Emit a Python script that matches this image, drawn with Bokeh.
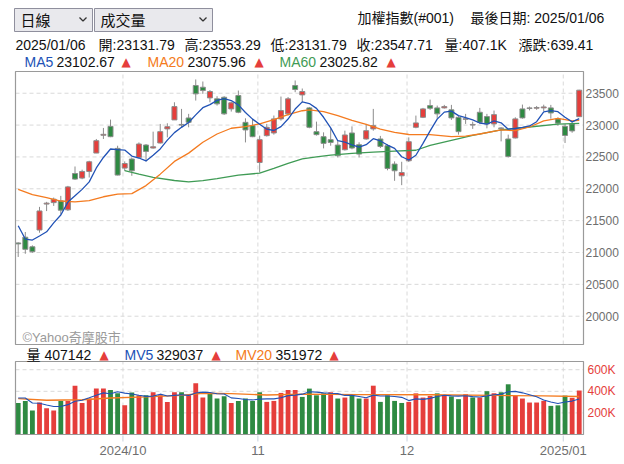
from bokeh.plotting import figure
from bokeh.models import Range1d, ColumnDataSource
from bokeh.core.properties import value
from bokeh.embed import file_html
from bokeh.resources import INLINE

# ---------------- data ----------------
month_start_idx = [15, 34, 55, 77]
month_labels = ["2024/10", "11", "12", "2025/01"]

opens = [21150, 21240, 21090, 21353, 21760, 21783, 21810, 21670, 22240, 22168,
         22272, 22561, 22840, 22980, 22634, 22325, 22467, 22492, 22687, 22640,
         22719, 22940, 23081, 23010, 23112, 23621, 23594, 23427, 23412, 23437,
         23254, 23464, 23043, 22991, 22413, 22834, 22876, 23097, 23176, 23621,
         23474, 23270, 22897, 22818, 22771, 22687, 22613, 22876, 22692, 22782,
         22940, 22782, 22676, 22388, 22204, 22440, 22965, 23122, 23306, 23270,
         23270, 23239, 23122, 23090, 23000, 23201, 23133, 23018, 22955, 22782,
         22798, 23254, 23260, 23265, 23270, 23270, 23097, 22980, 23018, 23131.79]
highs = [21160, 21322, 21112, 21716, 21795, 21862, 21889, 22046, 22350, 22300,
         22440, 22782, 22955, 23086, 22676, 22430, 22492, 22728, 22703, 22897,
         23018, 23028, 23358, 23254, 23176, 23716, 23684, 23550, 23453, 23453,
         23369, 23542, 23106, 23097, 22834, 23018, 23150, 23448, 23440, 23700,
         23574, 23285, 23054, 22886, 22949, 22766, 22912, 22980, 22730, 23018,
         23254, 22830, 22700, 22430, 22424, 22807, 23149, 23270, 23400, 23306,
         23317, 23317, 23140, 23176, 23054, 23270, 23176, 23228, 22965, 22850,
         23122, 23322, 23290, 23300, 23320, 23317, 23120, 23018, 23060, 23553.29]
lows = [20930, 20980, 20996, 21311, 21650, 21731, 21600, 21652, 22140, 22150,
        22177, 22560, 22782, 22810, 22210, 22280, 22204, 22480, 22429, 22630,
        22710, 22807, 23080, 22965, 22965, 23385, 23490, 23358, 23306, 23160,
        23212, 23186, 22728, 22810, 22256, 22820, 22850, 23070, 23150, 23516,
        23358, 22950, 22835, 22634, 22676, 22492, 22600, 22620, 22492, 22770,
        22912, 22640, 22290, 22125, 22057, 22420, 22950, 23110, 23239, 23100,
        23260, 23081, 22850, 23018, 22940, 23018, 22949, 22965, 22744, 22492,
        22790, 23100, 23230, 23240, 23220, 23100, 22990, 22719, 22880, 23131.79]
closes = [21135, 21050, 21012, 21652, 21775, 21837, 21664, 22030, 22152, 22272,
          22424, 22755, 22855, 22818, 22215, 22397, 22283, 22703, 22587, 22660,
          22897, 22975, 23290, 23000, 23043, 23490, 23542, 23527, 23333, 23176,
          23349, 23201, 22924, 22818, 22771, 22965, 23097, 23228, 23412, 23558,
          23527, 22965, 22850, 22713, 22728, 22519, 22845, 22640, 22545, 22912,
          22991, 22665, 22319, 22283, 22255, 22739, 23034, 23254, 23264, 23176,
          23290, 23113, 22897, 23100, 23010, 23043, 23018, 23164, 22945, 22508,
          23097, 23113, 23270, 23275, 23285, 23190, 23030, 22837, 22908.30, 23547.71]
volumes = [292000, 311000, 222000, 296000, 243000, 222000, 311000, 311000, 452000, 292000,
           333000, 425000, 425000, 412000, 381000, 271000, 388000, 363000, 363000, 391000,
           363000, 302000, 391000, 391000, 363000, 474000, 342000, 375000, 333000, 354000,
           292000, 311000, 333000, 311000, 391000, 302000, 311000, 385000, 412000, 412000,
           348000, 425000, 363000, 381000, 391000, 333000, 342000, 363000, 333000, 333000,
           452000, 302000, 363000, 311000, 292000, 302000, 381000, 342000, 357000, 381000,
           358000, 352000, 327000, 373000, 343000, 343000, 401000, 382000, 391000, 465000,
           358000, 333000, 296000, 296000, 312000, 265000, 270000, 360000, 340000, 407142]
# the four sessions before the first visible bar (needed for the 5-day averages)
closes_before = [22092, 21092, 21335, 21446]
volumes_before = [311000, 452000, 306000, 329000]

# longer averages (bar index, value)
ma20_idx = [0, 2, 4, 6, 8, 10, 12, 14, 16, 18, 20, 22, 24, 26, 28, 30, 32, 34, 36, 38,
            40, 41, 43, 45, 47, 49, 51, 53, 55, 58, 61, 63, 65, 68, 70, 72, 74, 76, 78, 79]
ma20_val = [21990, 21910, 21860, 21808, 21795, 21815, 21875, 21915, 21925, 22050,
            22230, 22430, 22560, 22730, 22860, 22950, 22975, 23020, 23085, 23164,
            23225, 23240, 23210, 23150, 23075, 23010, 22935, 22885, 22852, 22850,
            22818, 22828, 22860, 22924, 22912, 22970, 23065, 23106, 23065, 23076]
ma60_idx = [15, 17, 19, 22, 24, 26, 28, 31, 34, 36, 38, 40, 42, 44, 47, 50, 53, 56,
            58, 61, 64, 68, 72, 76, 79]
ma60_val = [22285, 22230, 22180, 22130, 22110, 22128, 22160, 22215, 22245, 22320,
            22400, 22470, 22500, 22528, 22555, 22575, 22590, 22605, 22680, 22760,
            22840, 22924, 22970, 23015, 23026]
mv20_idx = [0, 4, 9, 13, 18, 23, 26, 30, 35, 40, 48, 58, 67, 74, 79]
mv20_val = [332000, 317000, 322000, 338000, 348000, 363000, 382000, 378000, 366000,
            373000, 370000, 368000, 362000, 357000, 352000]

# values printed in the legends
last_date = "2025/01/06"
ma5_last, ma20_last, ma60_last = 23102.67, 23075.96, 23025.82
mv5_last, mv20_last = 329037, 351972

price_ticks = [20000, 20500, 21000, 21500, 22000, 22500, 23000, 23500]
volume_ticks = [200000, 400000, 600000]
volume_tick_labels = ["200K", "400K", "600K"]

# ---------------- derived ----------------
n = len(closes)
idx = list(range(n))
all_c = closes_before + closes
all_v = volumes_before + volumes
ma5 = [sum(all_c[i:i + 5]) / 5 for i in range(n)]
mv5 = [sum(all_v[i:i + 5]) / 5 for i in range(n)]
prev_close = [closes_before[-1]] + closes[:-1]

RED = "#e53e3b"
GREEN = "#2e8a42"
BLUE = "#2152b6"
ORANGE = "#f47b20"
MGREEN = "#3f9b55"
GRID = "#d9d9d9"
FRAME = "#9a9a9a"
AXIS_TXT = "#6e6e6e"
FONT = value("Liberation Sans, Noto Sans CJK TC")
W, H = 624, 464

body_col = [RED if c >= o else GREEN for o, c in zip(opens, closes)]
vol_col = [RED if c >= pc else GREEN for c, pc in zip(closes, prev_close)]
month_pos = [m - 0.25 for m in month_start_idx]

cs = ColumnDataSource(dict(
    x=idx, o=opens, h=highs, l=lows, c=closes,
    top=[max(o, c) for o, c in zip(opens, closes)],
    bot=[min(o, c) for o, c in zip(opens, closes)],
    col=body_col, vol=volumes, vcol=vol_col, ma5=ma5, mv5=mv5))

# ---------------- geometry (pixel layout of the two panels) ----------------
X0, X1 = -0.38, 79.6          # bar-index span of both panels
FL, FR = 15, 583              # panel left / right (px)
P_TOP, P_BOT = 71, 344        # price panel top / bottom (px)
P_Y0, P_Y1 = 19556, 23841     # price span
V_TOP, V_BOT = 361, 434       # volume panel top / bottom (px)
V_Y0, V_Y1 = 0, 676000        # volume span

sx = (X1 - X0) / (FR - FL)
sp = (P_Y1 - P_Y0) / (P_BOT - P_TOP)
sv = (V_Y1 - V_Y0) / (V_BOT - V_TOP)

p = figure(width=W, height=H,
           x_range=Range1d(X0 - FL * sx, X1 + (W - FR) * sx),
           y_range=Range1d(P_Y0 - (H - P_BOT) * sp, P_Y1 + P_TOP * sp),
           x_axis_location=None, y_axis_location=None, toolbar_location=None,
           output_backend="svg", min_border=0, outline_line_color=None, title=None)
p.xgrid.visible = False
p.ygrid.visible = False
p.extra_y_ranges = {"vol": Range1d(V_Y0 - (H - V_BOT) * sv, V_Y1 + V_TOP * sv),
                    "px": Range1d(H, 0)}
p.extra_x_ranges = {"px": Range1d(0, W)}
PX = dict(x_range_name="px", y_range_name="px")
VOL = dict(y_range_name="vol")

# ---------------- price panel ----------------
p.segment(x0=[X0] * len(price_ticks), x1=[X1] * len(price_ticks), y0=price_ticks,
          y1=price_ticks, line_color=GRID, line_dash="4 3", line_width=1)
p.segment(x0=month_pos, x1=month_pos, y0=[P_Y0] * 4, y1=[P_Y1] * 4,
          line_color=GRID, line_dash="4 3", line_width=1)
p.text(x=[22], y=[337], text=["©Yahoo奇摩股市"], text_font=FONT, text_font_size="13px",
       text_color="#9a9a9a", text_baseline="middle", **PX)
p.segment(x0="x", y0="l", x1="x", y1="h", source=cs, line_color="#8c8c8c", line_width=1)
p.vbar(x="x", width=0.7, top="top", bottom="bot", source=cs, fill_color="col",
       line_color="#8c8c8c", line_width=1)
p.line(ma60_idx, ma60_val, line_color=MGREEN, line_width=1.3)
p.line(ma20_idx, ma20_val, line_color=ORANGE, line_width=1.3)
p.line(x="x", y="ma5", source=cs, line_color=BLUE, line_width=1.3)
p.quad(left=[X0], right=[X1], bottom=[P_Y0], top=[P_Y1], fill_color=None,
       line_color=FRAME, line_width=1.2)
p.text(x=[X1] * len(price_ticks), y=price_ticks, text=[str(t) for t in price_ticks],
       x_offset=2, text_font=value("Liberation Sans"), text_font_size="12px",
       text_color=AXIS_TXT, text_baseline="middle", text_align="left")

# ---------------- volume panel ----------------
p.segment(x0=[X0] * 3, x1=[X1] * 3, y0=volume_ticks, y1=volume_ticks,
          line_color=GRID, line_dash="4 3", line_width=1, **VOL)
p.segment(x0=month_pos, x1=month_pos, y0=[V_Y0] * 4, y1=[V_Y1] * 4,
          line_color=GRID, line_dash="4 3", line_width=1, **VOL)
p.vbar(x="x", width=0.68, top="vol", bottom=0, source=cs, fill_color="vcol",
       line_color=None, **VOL)
p.line(mv20_idx, mv20_val, line_color=ORANGE, line_width=1.3, **VOL)
p.line(x="x", y="mv5", source=cs, line_color=BLUE, line_width=1.1, **VOL)
p.quad(left=[X0], right=[X1], bottom=[V_Y0], top=[V_Y1], fill_color=None,
       line_color=FRAME, line_width=1.2, **VOL)
p.text(x=[X1] * 3, y=volume_ticks, text=volume_tick_labels, x_offset=4,
       text_font=value("Liberation Sans"), text_font_size="12px", text_color=RED,
       text_baseline="middle", text_align="left", **VOL)

# x axis: tick marks and month labels under the volume panel
p.segment(x0=month_pos, x1=month_pos, y0=[V_BOT + 1] * 4, y1=[V_BOT + 7] * 4,
          line_color="#c9d3de", line_width=1, y_range_name="px")
p.text(x=month_pos, y=[450] * 4, text=month_labels, text_font=value("Liberation Sans"),
       text_font_size="13px", text_color=AXIS_TXT, text_baseline="middle",
       text_align="center", y_range_name="px")

# ---------------- header ----------------
p.quad(left=[14, 94], right=[92, 212], top=[8, 8], bottom=[31, 31],
       fill_color="#e9e9ed", line_color="#8f8f9d", line_width=1, **PX)
p.multi_line(xs=[[79, 82.5, 86], [199, 202.5, 206]], ys=[[17, 20.5, 17], [17, 20.5, 17]],
             line_color="#333", line_width=1.3, **PX)
p.text(x=[20, 100], y=[20, 20], text=["日線", "成交量"], text_font=FONT,
       text_font_size="15px", text_color="#111", text_baseline="middle", **PX)
p.text(x=[357, 470], y=[17, 17], text=["加權指數(#001)", "最後日期: " + last_date],
       text_font=FONT, text_font_size="14px", text_color="#111", text_baseline="middle", **PX)
row2 = [last_date,
        "開:%.2f" % opens[-1], "高:%.2f" % highs[-1], "低:%.2f" % lows[-1],
        "收:%.2f" % closes[-1], "量:%.1fK" % (volumes[-1] / 1000),
        "漲跌:%.2f" % (closes[-1] - closes[-2])]
p.text(x=[15, 98, 184, 270, 356, 444, 518], y=[44] * 7, text=row2, text_font=FONT,
       text_font_size="14px", text_color="#111", text_baseline="middle", **PX)
p.text(x=[24, 147, 279], y=[61] * 3, text=["MA5", "MA20", "MA60"], text_font=FONT,
       text_font_size="14px", text_color=[BLUE, ORANGE, MGREEN], text_baseline="middle", **PX)
p.text(x=[56, 187, 319], y=[61] * 3,
       text=["%.2f" % ma5_last, "%.2f" % ma20_last, "%.2f" % ma60_last],
       text_font=FONT, text_font_size="14px", text_color="#111", text_baseline="middle", **PX)
p.text(x=[121, 254, 386], y=[61] * 3, text=["▲"] * 3, text_font=value("DejaVu Sans"),
       text_font_size="12px", text_color=RED, text_baseline="middle", **PX)

# volume legend
p.text(x=[26, 124, 235], y=[354] * 3, text=["量", "MV5", "MV20"], text_font=FONT,
       text_font_size="14px", text_color=["#111", BLUE, ORANGE], text_baseline="middle", **PX)
p.text(x=[44, 156, 275], y=[354] * 3,
       text=["%d" % volumes[-1], "%d" % mv5_last, "%d" % mv20_last],
       text_font=FONT, text_font_size="14px", text_color="#111", text_baseline="middle", **PX)
p.text(x=[99, 211, 329], y=[354] * 3, text=["▲"] * 3, text_font=value("DejaVu Sans"),
       text_font_size="12px", text_color=RED, text_baseline="middle", **PX)

open("out.html", "w").write(file_html(p, INLINE))
